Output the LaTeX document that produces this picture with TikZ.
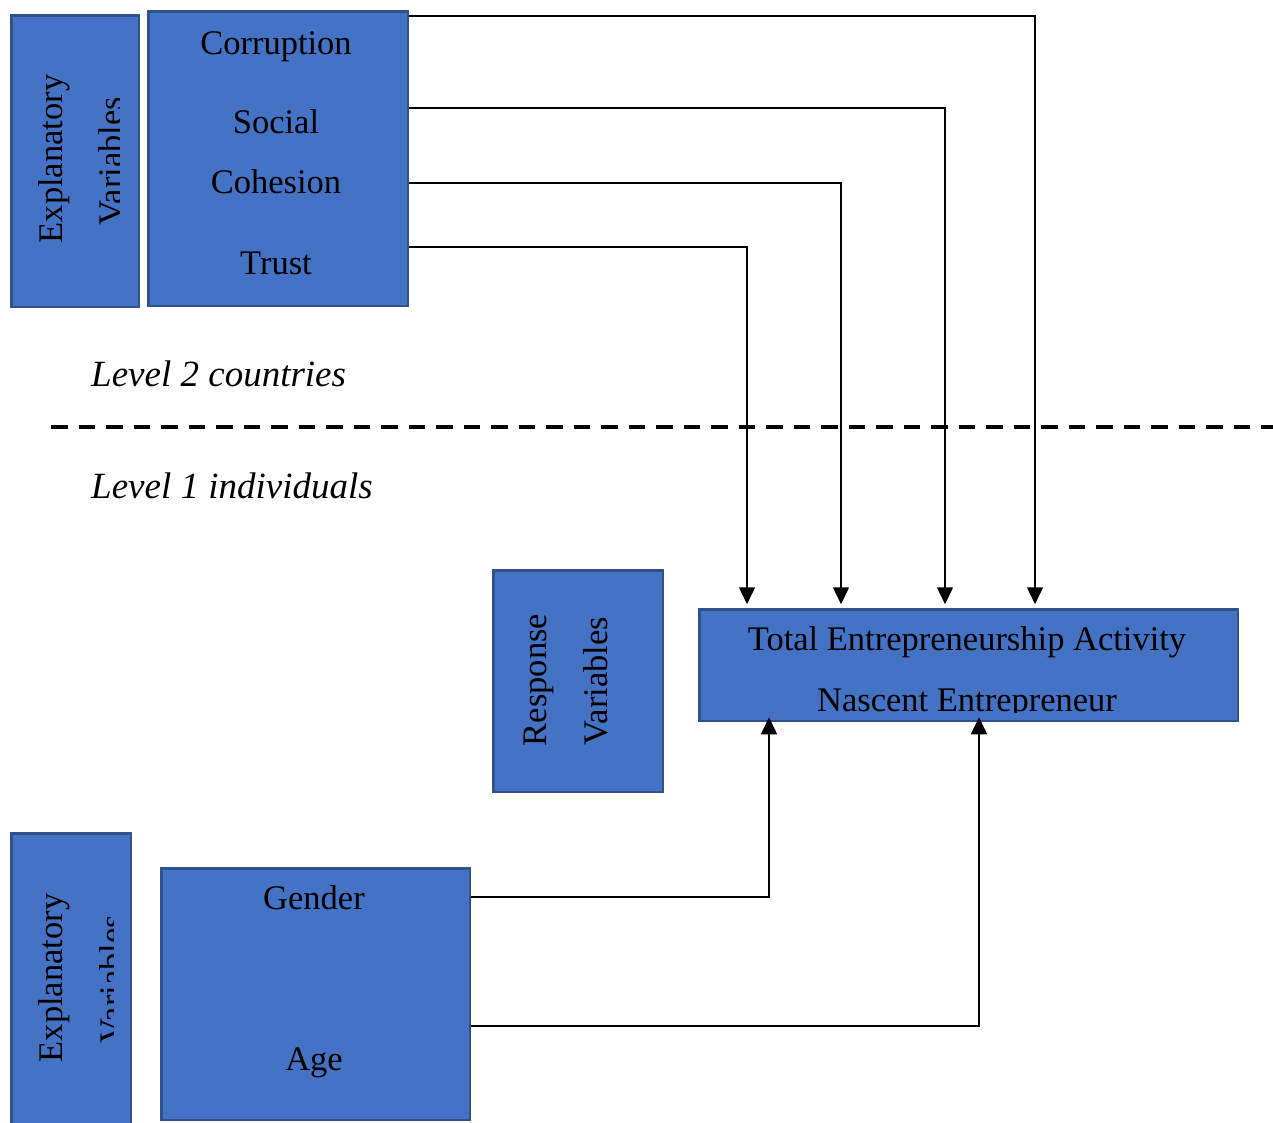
\documentclass[tikz,border=0pt]{standalone}
\usepackage{fontspec}
\setmainfont{Liberation Serif}
\usetikzlibrary{arrows.meta}
\definecolor{boxfill}{HTML}{4472C4}
\definecolor{boxedge}{HTML}{2F528F}
\begin{document}
\begin{tikzpicture}[x=1pt,y=-1pt,
  panel/.style={draw=boxedge, line width=2.5pt, fill=boxfill, anchor=north west, inner sep=0pt},
  lbl/.style={font=\fontsize{34.5}{40}\selectfont, inner sep=0pt, anchor=base},
  vlbl/.style={lbl, rotate=90},
  lvl/.style={font=\fontsize{37}{43}\selectfont\itshape, inner sep=0pt, anchor=base west},
  conn/.style={line width=1.5pt, -{Triangle[length=17pt,width=16pt]}},
  divider/.style={line width=4pt, dash pattern=on 16.5pt off 11pt},
]
\useasboundingbox (0,0) rectangle (1273,1122);

% ---- boxes (outer edges given, border drawn inside) ----
\node[panel, minimum width=127.5pt, minimum height=291.5pt] (A) at (10.25,14.25) {};
\node[panel, minimum width=259.5pt, minimum height=294.5pt] (B) at (147.25,10.25) {};
\node[panel, minimum width=119.5pt, minimum height=300pt] (C) at (10.25,832.25) {};
\node[panel, minimum width=308.5pt, minimum height=251.5pt] (D) at (160.25,867.25) {};
\node[panel, minimum width=169.5pt, minimum height=221.5pt] (E) at (492.25,569.25) {};
\node[panel, minimum width=538.5pt, minimum height=111.5pt] (F) at (698.25,608.25) {};

% ---- country-level explanatory variables ----
\node[vlbl] (a1) at (62,159) {Explanatory};
\begin{scope}
  \clip (9,13) rectangle (119,307);
  \node[vlbl] (a2) at (122,161) {Variables};
\end{scope}
\node[lbl] (corr) at (276,54) {Corruption};
\node[lbl] (soc) at (276,133) {Social};
\node[lbl] (coh) at (276,193) {Cohesion};
\node[lbl] (tru) at (276,274) {Trust};

% ---- level labels and divider ----
\node[lvl] (lv2) at (91,386) {Level 2 countries};
\node[lvl] (lv1) at (91,498) {Level 1 individuals};
\coordinate (dl) at (51,427);
\coordinate (dr) at (1275,427);
\draw[divider] (dl) -- (dr);

% ---- response variables ----
\node[vlbl] (e1) at (546,680) {Response};
\node[vlbl] (e2) at (607,681) {Variables};
\node[lbl] (tea) at (967,650) {Total Entrepreneurship Activity};
\begin{scope}
  \clip (697,607) rectangle (1238,712);
  \node[lbl] (nas) at (967,711) {Nascent Entrepreneur};
\end{scope}

% ---- individual-level explanatory variables ----
\node[vlbl] (c1) at (62,978) {Explanatory};
\begin{scope}
  \clip (9,831) rectangle (113,1122);
  \node[vlbl] (c2) at (123,979) {Variables};
\end{scope}
\node[lbl] (gen) at (314,909) {Gender};
\node[lbl] (age) at (314,1070) {Age};

% ---- connectors ----
\coordinate (k1) at (1035,16);
\coordinate (k2) at (945,108);
\coordinate (k3) at (841,183);
\coordinate (k4) at (747,247);
\coordinate (k5) at (769,897);
\coordinate (k6) at (979,1026);
\draw[conn] (B.east |- k1) -| ([yshift=4pt]F.north -| k1);
\draw[conn] (B.east |- k2) -| ([yshift=4pt]F.north -| k2);
\draw[conn] (B.east |- k3) -| ([yshift=4pt]F.north -| k3);
\draw[conn] (B.east |- k4) -| ([yshift=4pt]F.north -| k4);
\draw[conn] (D.east |- k5) -| ([yshift=5pt]F.south -| k5);
\draw[conn] (D.east |- k6) -| ([yshift=5pt]F.south -| k6);
\end{tikzpicture}
\end{document}
